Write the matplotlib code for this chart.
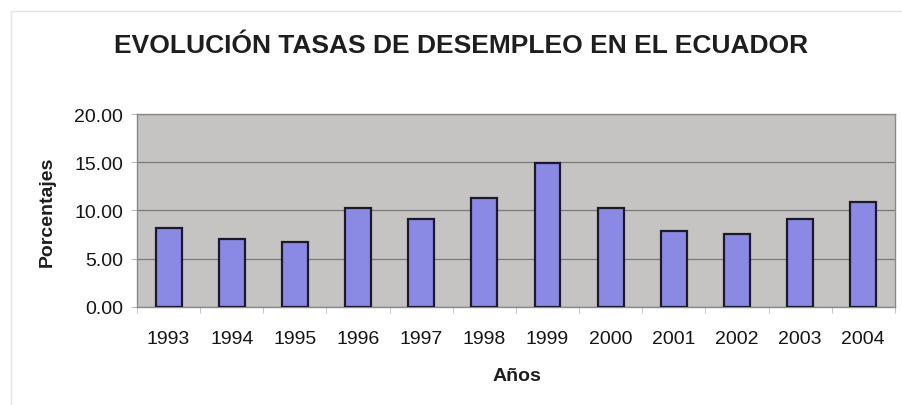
import matplotlib.pyplot as plt
from matplotlib.patches import Rectangle
import numpy as np

plt.rcParams['font.family'] = ['Liberation Sans', 'DejaVu Sans']

years = ["1993", "1994", "1995", "1996", "1997", "1998",
         "1999", "2000", "2001", "2002", "2003", "2004"]
tasas = [8.2, 7.0, 6.7, 10.2, 9.1, 11.3, 14.9, 10.2, 7.9, 7.5, 9.1, 10.9]
yticks = [0, 5, 10, 15, 20]

fig = plt.figure(figsize=(9.03, 4.06), dpi=100)
ax = fig.add_axes([0.1517, 0.2420, 0.8393, 0.4747])

# marco exterior del grafico
fig.patches.append(Rectangle((0.012, -0.05), 0.99, 1.02, transform=fig.transFigure,
                             fill=False, edgecolor='#e4e4e4', linewidth=1))

x = np.arange(len(years))
ax.set_facecolor('#c6c3c3')
ax.bar(x, tasas, width=0.41, color='#8a8ae4', edgecolor='#1a1a2a', linewidth=1.6, zorder=3)

ax.set_xlim(-0.5, len(years) - 0.5)
ax.set_ylim(0, 20)
ax.set_yticks(yticks)
ax.set_yticklabels([f"{v:.2f}" for v in yticks], fontsize=14, color='#151515')
ax.set_xticks(x)
ax.set_xticklabels(years, fontsize=14, color='#151515')
ax.set_xticks(np.arange(len(years) + 1) - 0.5, minor=True)
ax.tick_params(axis='x', which='major', length=0, pad=17)
ax.tick_params(axis='x', which='minor', length=4, color='#bbbbbb')
ax.tick_params(axis='y', length=4, color='#bbbbbb', pad=6)
ax.grid(axis='y', color='#7a7a7a', linewidth=0.9, zorder=1)

for s in ax.spines.values():
    s.set_color('#8a8a8a')
    s.set_linewidth(1)

fig.text(0.511, 0.886, "EVOLUCIÓN TASAS DE DESEMPLEO EN EL ECUADOR",
         ha='center', va='center', fontsize=19, fontweight='bold', color='#1e1e1e')
fig.text(0.052, 0.479, "Porcentajes", rotation=90, ha='center', va='center',
         fontsize=14, fontweight='bold', color='#1e1e1e')
fig.text(0.573, 0.072, "Años", ha='center', va='center',
         fontsize=14, fontweight='bold', color='#1e1e1e')

fig.savefig("out.png", dpi=100)
